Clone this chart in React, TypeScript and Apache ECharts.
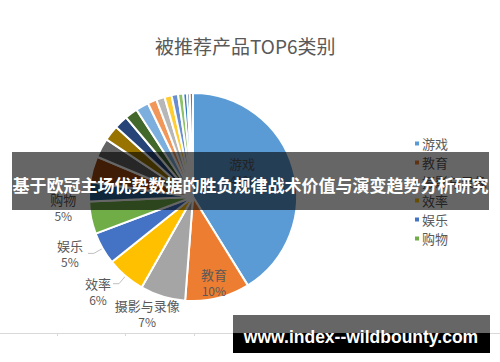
import React, { useEffect, useRef } from "react";
import * as echarts from "echarts";

const titleText = "被推荐产品TOP6类别";
const bannerText = "基于欧冠主场优势数据的胜负规律战术价值与演变趋势分析研究";
const watermarkText = "www.index--wildbounty.com";

const categories = [
  "游戏", "教育", "摄影与录像", "效率", "娱乐", "购物",
  "社交", "生活", "工具", "音乐", "健康健美", "旅游", "财务", "导航",
  "新闻", "体育", "美食佳饮", "商务", "参考", "天气", "医疗",
];
const values = [41, 10, 7, 6, 5, 5, 3, 4, 3, 2.4, 2.1, 2, 2, 1.4, 1.3, 1.1, 1, 0.8, 0.6, 0.4, 0.5];
const colors = [
  "#5B9BD5", "#ED7D31", "#A5A5A5", "#FFC000", "#4472C4", "#70AD47",
  "#255E91", "#9E480E", "#636363", "#997300", "#264478", "#43682B",
  "#7CAFDD", "#F1975A", "#B7B7B7", "#FFCD33", "#698ED0", "#8CC168",
  "#327DC2", "#255E91", "#D26012",
];
const legendNames = categories.slice(0, 6);
const outsideLabelIdx = [2, 3, 4, 5];
const lineLabelIdx = [3, 4];

const FONT = "'Noto Sans CJK SC', 'Noto Sans', sans-serif";

// label nudges (px) per data index of the main pie
const labelNudge: Record<number, [number, number]> = {
  0: [-4, -10],
  2: [31, 7],
  3: [3, 8],
  4: [0, 0],
  5: [6, -12],
};

export default function App() {
  const ref = useRef<HTMLDivElement>(null);
  useEffect(() => {
    if (!ref.current) return;
    const chart = echarts.init(ref.current, null, { renderer: "svg" });
    const fmt = (p: any) => `{n|${p.name}}\n{p|${Math.round(p.percent)}%}`;
    const rich = {
      n: { fontSize: 13, color: "#595959", lineHeight: 16, fontFamily: FONT, align: "center" },
      p: { fontSize: 12, color: "#595959", lineHeight: 16, fontFamily: FONT, align: "center" },
    };
    const mainData = categories.map((name, i) => ({
      name,
      value: values[i],
      itemStyle: { color: colors[i] },
      label: {
        show: i === 0 || outsideLabelIdx.includes(i),
        position: i === 0 ? "inside" : "outside",
      },
      labelLine: { show: lineLabelIdx.includes(i) },
    }));
    const innerData = categories.map((name, i) => ({
      name,
      value: values[i],
      itemStyle: { color: "rgba(0,0,0,0)" },
      label: { show: i === 1, position: "inside" },
    }));
    chart.setOption({
      animation: false,
      title: {
        text: titleText,
        left: 150,
        top: 31,
        textStyle: { fontSize: 19, fontWeight: "normal", color: "#595959", fontFamily: FONT },
      },
      legend: {
        data: legendNames,
        orient: "vertical",
        left: 408,
        top: 132,
        itemWidth: 6,
        itemHeight: 6,
        itemGap: 6,
        icon: "rect",
        textStyle: { fontSize: 13, color: "#595959", fontFamily: FONT, padding: [0, 0, 0, -3] },
      },
      series: [
        {
          type: "pie",
          center: [193, 197],
          radius: [0, 104],
          startAngle: 90,
          clockwise: true,
          avoidLabelOverlap: false,
          itemStyle: { borderColor: "#fff", borderWidth: 2 },
          label: { formatter: fmt, rich },
          labelLine: { length: 10, length2: 6, lineStyle: { color: "#BFBFBF", width: 1 } },
          labelLayout: (params: any) => {
            const n = labelNudge[params.dataIndex] || [0, 0];
            return { hideOverlap: false, moveOverlap: false, dx: n[0], dy: n[1] };
          },
          emphasis: { disabled: true },
          data: mainData,
        },
        {
          type: "pie",
          center: [193, 197],
          radius: [66, 104],
          startAngle: 90,
          clockwise: true,
          silent: true,
          itemStyle: { borderWidth: 0 },
          label: { formatter: fmt, rich },
          labelLine: { show: false },
          labelLayout: { hideOverlap: false },
          emphasis: { disabled: true },
          data: innerData,
        },
      ],
      graphic: [
        { type: "line", z: 50, shape: { x1: 0, y1: 333.5, x2: 500, y2: 333.5 }, style: { stroke: "#D9D9D9", lineWidth: 1 } },
        { type: "line", z: 50, shape: { x1: 57.5, y1: 333, x2: 57.5, y2: 336 }, style: { stroke: "#D9D9D9", lineWidth: 1 } },
        { type: "line", z: 50, shape: { x1: 125.5, y1: 333, x2: 125.5, y2: 336 }, style: { stroke: "#D9D9D9", lineWidth: 1 } },
        { type: "line", z: 50, shape: { x1: 194.5, y1: 333, x2: 194.5, y2: 336 }, style: { stroke: "#D9D9D9", lineWidth: 1 } },
        { type: "rect", z: 100, shape: { x: 12, y: 152, width: 477, height: 58 }, style: { fill: "rgba(0,0,0,0.6)" } },
        {
          type: "text", z: 101, x: 250.5, y: 184,
          style: {
            text: bannerText, fill: "#fff", fontSize: 17, fontWeight: "bold", fontFamily: FONT,
            textAlign: "center", textVerticalAlign: "middle",
          },
        },
        { type: "rect", z: 100, shape: { x: 233, y: 315, width: 257, height: 18 }, style: { fill: "rgba(0,0,0,0.6)" } },
        { type: "rect", z: 100, shape: { x: 233, y: 333, width: 257, height: 20 }, style: { fill: "#000" } },
        {
          type: "text", z: 101, x: 361, y: 337,
          style: {
            text: watermarkText, fill: "#fff", fontSize: 17.5, fontWeight: "bold",
            fontFamily: "'Liberation Sans', Arial, sans-serif",
            textAlign: "center", textVerticalAlign: "middle",
          },
        },
      ],
    });
    return () => chart.dispose();
  }, []);
  return (
    <div
      ref={ref}
      style={{ position: "fixed", left: 0, top: 0, width: 500, height: 362, background: "#fff" }}
    />
  );
}
